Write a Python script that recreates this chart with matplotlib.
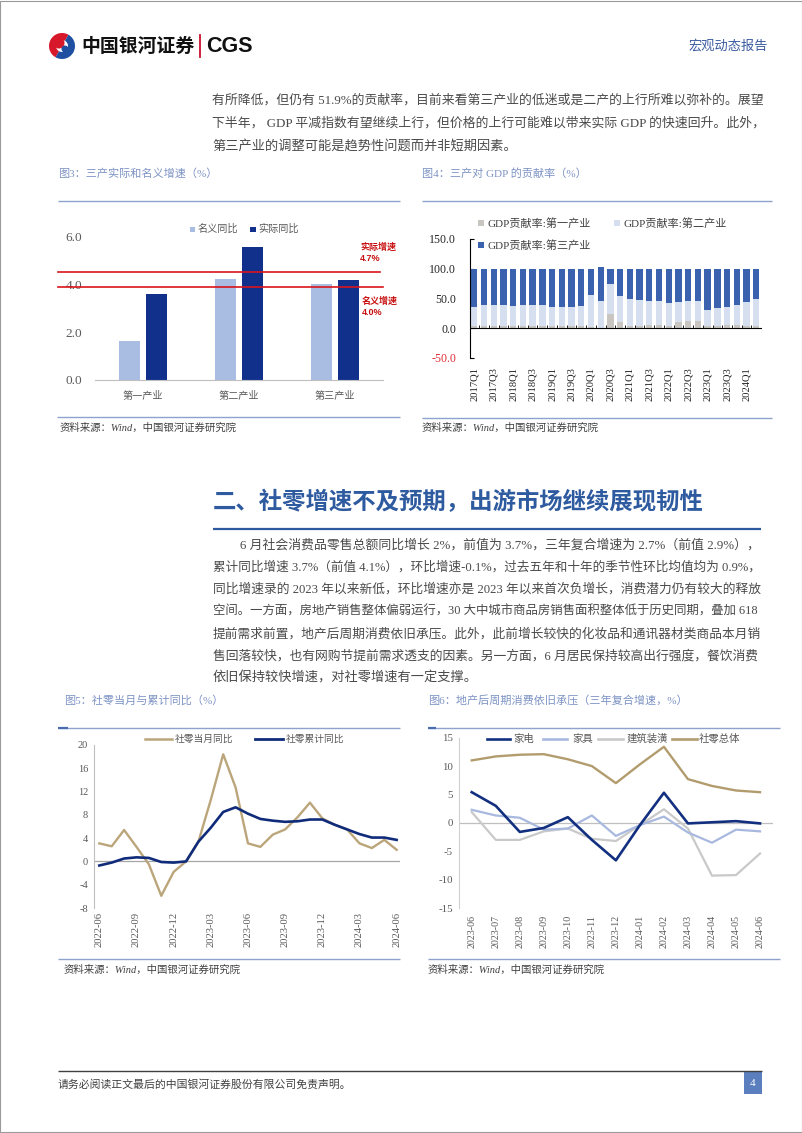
import matplotlib
matplotlib.use('Agg')
import matplotlib.pyplot as plt
import numpy as np
from matplotlib.patches import Rectangle, Wedge
from matplotlib.lines import Line2D

plt.rcParams['font.family'] = ['Liberation Serif', 'Noto Sans CJK SC', 'DejaVu Sans']
plt.rcParams['axes.unicode_minus'] = False

# ---------------- data ----------------
fig3_categories = ['第一产业', '第二产业', '第三产业']
fig3_series = ['名义同比', '实际同比']
fig3_nominal = [1.63, 4.21, 4.02]
fig3_real = [3.58, 5.58, 4.18]
fig3_ref_levels = [4.53, 3.90]
fig3_ref_names = ['实际增速', '名义增速']
fig3_ref_values = ['4.7%', '4.0%']

fig4_quarters = ['2017Q1', '2017Q2', '2017Q3', '2017Q4', '2018Q1', '2018Q2', '2018Q3', '2018Q4',
                 '2019Q1', '2019Q2', '2019Q3', '2019Q4', '2020Q1', '2020Q2', '2020Q3', '2020Q4',
                 '2021Q1', '2021Q2', '2021Q3', '2021Q4', '2022Q1', '2022Q2', '2022Q3', '2022Q4',
                 '2023Q1', '2023Q2', '2023Q3', '2023Q4', '2024Q1', '2024Q2']
fig4_primary = [3, 3, 4, 4, 3, 3, 4, 4, 3, 3, 4, 4, 1, -2, 24, 10,
                4, 4, 5, 5, 4, 10, 11, 11, 4, 4, 5, 5, 3, 4]
fig4_secondary = [33, 36, 35, 35, 34, 35, 34, 35, 32, 32, 31, 33, 54, 46, 51, 44,
                  45, 43.5, 41, 40, 38.5, 33.5, 34, 34, 26, 29, 31, 34.5, 41, 44.5]
fig4_tertiary = [64, 61, 61, 61, 63, 62, 62, 61, 65, 65, 65, 63, 45, 57.5, 25, 46,
                 51, 52.5, 54, 55, 57.5, 56.5, 55, 55, 70, 67, 64, 60.5, 56, 51.5]
fig4_legend = ['GDP贡献率:第一产业', 'GDP贡献率:第二产业', 'GDP贡献率:第三产业']

fig5_months = ['2022-06', '2022-07', '2022-08', '2022-09', '2022-10', '2022-11', '2022-12',
               '2023-01', '2023-02', '2023-03', '2023-04', '2023-05', '2023-06', '2023-07',
               '2023-08', '2023-09', '2023-10', '2023-11', '2023-12', '2024-01', '2024-02',
               '2024-03', '2024-04', '2024-05', '2024-06']
fig5_monthly = [3.1, 2.6, 5.4, 2.5, -0.5, -5.9, -1.8, 0.0, 3.4, 10.6, 18.4, 12.7, 3.1,
                2.5, 4.6, 5.5, 7.6, 10.1, 7.4, 6.3, 5.5, 3.1, 2.3, 3.7, 2.0]
fig5_cumulative = [-0.7, -0.2, 0.5, 0.7, 0.6, -0.1, -0.2, 0.0, 3.4, 5.8, 8.5, 9.3, 8.2,
                   7.3, 7.0, 6.8, 6.9, 7.2, 7.2, 6.3, 5.5, 4.7, 4.1, 4.1, 3.7]
fig5_names = ['社零当月同比', '社零累计同比']

fig6_months = ['2023-06', '2023-07', '2023-08', '2023-09', '2023-10', '2023-11', '2023-12',
               '2024-01', '2024-02', '2024-03', '2024-04', '2024-05', '2024-06']
fig6_appliance = [5.4, 3.0, -1.6, -0.9, 1.0, -3.0, -6.6, -0.4, 5.3, -0.1, 0.1, 0.3, -0.1]
fig6_furniture = [2.3, 1.3, 0.9, -1.2, -1.0, 1.3, -2.3, -0.4, 1.1, -1.7, -3.5, -1.2, -1.5]
fig6_decoration = [1.9, -3.0, -3.0, -1.5, -1.0, -2.8, -3.2, -0.4, 2.4, -1.0, -9.3, -9.2, -5.4]
fig6_retail_total = [11.0, 11.7, 12.0, 12.1, 11.2, 10.0, 7.0, 10.3, 13.4, 7.7, 6.5, 5.7, 5.4]
fig6_names = ['家电', '家具', '建筑装潢', '社零总体']

para1 = ['有所降低，但仍有 51.9%的贡献率，目前来看第三产业的低迷或是二产的上行所难以弥补的。展望',
         '下半年， GDP 平减指数有望继续上行，但价格的上行可能难以带来实际 GDP 的快速回升。此外，',
         '第三产业的调整可能是趋势性问题而并非短期因素。']
heading = '二、社零增速不及预期，出游市场继续展现韧性'
para2 = ['6 月社会消费品零售总额同比增长 2%，前值为 3.7%，三年复合增速为 2.7%（前值 2.9%），',
         '累计同比增速 3.7%（前值 4.1%），环比增速-0.1%，过去五年和十年的季节性环比均值均为 0.9%，',
         '同比增速录的 2023 年以来新低，环比增速亦是 2023 年以来首次负增长，消费潜力仍有较大的释放',
         '空间。一方面，房地产销售整体偏弱运行，30 大中城市商品房销售面积整体低于历史同期，叠加 618',
         '提前需求前置，地产后周期消费依旧承压。此外，此前增长较快的化妆品和通讯器材类商品本月销',
         '售回落较快，也有网购节提前需求透支的因素。另一方面，6 月居民保持较高出行强度，餐饮消费',
         '依旧保持较快增速，对社零增速有一定支撑。']
source_text = '资料来源：Wind，中国银河证券研究院'

# ---------------- page helpers ----------------
W, H = 802, 1133
fig = plt.figure(figsize=(W / 100, H / 100), dpi=100)
fig.patch.set_facecolor('white')
renderer = fig.canvas.get_renderer()

SANS = ['Noto Sans CJK SC', 'DejaVu Sans']
TITLE_C = '#7D93C4'
RULE_C = '#8EA3CB'
BODY_C = '#4A4A4A'
TICK_C = '#595959'


def fx(x):
    return x / W


def fy(y):
    return 1 - y / H


def add_ax(x0, y0, x1, y1):
    return fig.add_axes([fx(x0), fy(y1), (x1 - x0) / W, (y1 - y0) / H])


def hline(x0, x1, y, color, lw):
    fig.add_artist(Line2D([fx(x0), fx(x1)], [fy(y), fy(y)], color=color, lw=lw,
                          transform=fig.transFigure, solid_capstyle='butt'))


def rect(x0, y0, x1, y1, color):
    fig.add_artist(Rectangle((fx(x0), fy(y1)), (x1 - x0) / W, (y1 - y0) / H,
                             facecolor=color, edgecolor='none', transform=fig.transFigure))


def txt(x, y, s, size, color=BODY_C, ha='left', va='center', **kw):
    return fig.text(fx(x), fy(y), s, fontsize=size, color=color, ha=ha, va=va, **kw)


def fit_line(x0, x1, y, s, base, color=BODY_C, justify=True, **kw):
    t = txt(x0, y, s, base, color, **kw)
    if justify:
        w = t.get_window_extent(renderer).width
        scale = min(max((x1 - x0) / w, 0.85), 1.15)
        t.set_fontsize(base * scale)
    return t


# page frame
fig.add_artist(Rectangle((0.0005, 0.0005), 0.999, 0.999, fill=False, edgecolor='#9A9A9A',
                         lw=0.8, transform=fig.transFigure))

# ---------------- header ----------------
axl = add_ax(46, 32, 78, 60)
axl.set_xlim(46, 78)
axl.set_ylim(60, 32)
axl.axis('off')
axl.add_patch(Wedge((62, 46), 13, 120, 300, width=7, facecolor='#D7182A'))
axl.add_patch(Wedge((62, 46), 13, 300, 120, width=7, facecolor='#1F4FA0'))
axl.add_patch(Wedge((59, 43), 5.5, 0, 360, facecolor='#D7182A'))
axl.add_patch(Wedge((65, 49), 3.5, 0, 360, facecolor='#1F4FA0'))
txt(81, 46, '中国银河证券', 13.6, '#111111', family=SANS, weight='bold')
fig.add_artist(Line2D([fx(200), fx(200)], [fy(35), fy(57)], color='#C8102E', lw=1.3,
                      transform=fig.transFigure))
txt(206, 46, 'CGS', 15.5, '#111111', family=['Liberation Sans'], weight='bold')
txt(768, 46, '宏观动态报告', 9.5, '#3A5BA0', ha='right')

# ---------------- paragraph 1 ----------------
p1_y = [100, 123, 146]
for i, line in enumerate(para1):
    fit_line(212, 765, p1_y[i], line, 9.5, justify=(i < len(para1) - 1))

# ---------------- figure 3 ----------------
txt(58, 173, '图3：三产实际和名义增速（%）', 8, TITLE_C)
hline(58, 400, 200.7, RULE_C, 1.0)
hline(57, 400, 417.3, RULE_C, 1.0)
txt(60, 428, source_text, 7.5, '#404040', style='italic')

ax3 = add_ax(95, 236.7, 383, 380)
x3 = np.arange(len(fig3_categories))
ax3.bar(x3 - 0.14, fig3_nominal, width=0.219, color='#A9BDE3', zorder=2)
ax3.bar(x3 + 0.14, fig3_real, width=0.219, color='#10308C', zorder=2)
ax3.set_xlim(-0.5, 2.5)
ax3.set_ylim(0, 6)
for s in ['top', 'right', 'left']:
    ax3.spines[s].set_visible(False)
ax3.spines['bottom'].set_color('#BFBFBF')
ax3.set_yticks([0, 2, 4, 6])
ax3.set_yticklabels([f'{v:.1f}' for v in [0, 2, 4, 6]])
ax3.set_xticks(x3)
ax3.set_xticklabels(fig3_categories, family=SANS)
ax3.tick_params(length=0)
ax3.tick_params(axis='y', pad=9.4, labelsize=9.5, labelcolor=TICK_C)
ax3.tick_params(axis='x', pad=8, labelsize=7.3, labelcolor=TICK_C)
ax3.set_facecolor('none')
ref_ends = [(380 - 95) / 288, 1.0]
for lvl, xe in zip(fig3_ref_levels, ref_ends):
    ax3.plot([(58 - 95) / 288, xe], [lvl, lvl], transform=ax3.get_yaxis_transform(),
             clip_on=False, color='#D9141B', lw=1.2, zorder=3)
txt(360, 247, fig3_ref_names[0], 6.5, '#C81010', weight='bold', family=SANS)
txt(360, 258.5, fig3_ref_values[0], 6.5, '#C81010', weight='bold', family=['Liberation Sans'])
txt(362, 301, fig3_ref_names[1], 6.5, '#C81010', weight='bold', family=SANS)
txt(362, 312.5, fig3_ref_values[1], 6.5, '#C81010', weight='bold', family=['Liberation Sans'])
rect(189.5, 226.5, 195, 232, '#A9BDE3')
txt(198, 229, fig3_series[0], 7.3, TICK_C, family=SANS)
rect(250, 226.5, 255.5, 232, '#10308C')
txt(258, 229, fig3_series[1], 7.3, TICK_C, family=SANS)

# ---------------- figure 4 ----------------
txt(422, 173, '图4：三产对 GDP 的贡献率（%）', 8, TITLE_C)
hline(422, 772, 200.7, RULE_C, 1.0)
hline(422, 772, 418.3, RULE_C, 1.0)
txt(422, 428, source_text, 7.5, '#404040', style='italic')

ax4 = add_ax(470, 239, 762, 357.7)
xq = np.arange(len(fig4_quarters))
prim = np.array(fig4_primary, dtype=float)
sec = np.array(fig4_secondary, dtype=float)
ter = np.array(fig4_tertiary, dtype=float)
base2 = np.clip(prim, 0, None)
ax4.bar(xq, prim, width=0.65, color='#C9C6C2', zorder=2)
ax4.bar(xq, sec, bottom=base2, width=0.65, color='#D6DFF0', zorder=2)
ax4.bar(xq, ter, bottom=base2 + sec, width=0.65, color='#3A62AE', zorder=2)
ax4.axhline(0, color='black', lw=0.8, zorder=3)
ax4.vlines(xq[:-1] + 0.5, 0, 4.5, color='black', lw=0.6, zorder=3)
ax4.set_xlim(-0.44, 29.59)
ax4.set_ylim(-50, 150)
for s in ['top', 'right', 'bottom']:
    ax4.spines[s].set_visible(False)
ax4.spines['left'].set_color('black')
ax4.spines['left'].set_linewidth(0.8)
ax4.set_yticks([-50, 0, 50, 100, 150])
ax4.set_yticklabels([f'{v:.1f}' for v in [-50, 0, 50, 100, 150]])
ax4.tick_params(axis='y', direction='in', length=3, width=0.8, pad=10, labelsize=8.6,
                labelcolor='#262626')
ax4.get_yticklabels()[0].set_color('#E0303A')
ax4.set_xticks(xq[::2])
ax4.set_xticklabels(fig4_quarters[::2], rotation=90)
ax4.tick_params(axis='x', length=0, pad=7, labelsize=7.6, labelcolor='#262626')
ax4.set_facecolor('none')
leg4_colors = ['#C9C6C2', '#D6DFF0', '#3A62AE']
rect(478, 220, 484, 226, leg4_colors[0])
txt(487, 223, fig4_legend[0], 8, '#404040')
rect(614, 220, 620, 226, leg4_colors[1])
txt(623, 223, fig4_legend[1], 8, '#404040')
rect(478, 242, 484, 248, leg4_colors[2])
txt(487, 245, fig4_legend[2], 8, '#404040')

# ---------------- heading + paragraph 2 ----------------
fit_line(213, 705, 502, heading, 17, '#2E5AA0', weight='bold', family=SANS)
hline(213, 761, 528.5, '#2E5AA0', 1.6)
for i, line in enumerate(para2):
    x0 = 240 if i == 0 else 213
    fit_line(x0, 762, 545 + 22.2 * i, line, 9.5, justify=(i < len(para2) - 1))

# ---------------- figure 5 ----------------
txt(64, 700, '图5：社零当月与累计同比（%）', 8, TITLE_C)
hline(58, 400, 728, RULE_C, 1.0)
hline(58, 68, 728, '#4A6DB0', 1.6)
hline(58, 400, 959, RULE_C, 1.0)
txt(64, 970, source_text, 7.5, '#404040', style='italic')

ax5 = add_ax(94, 745, 400, 908)
xm = np.arange(len(fig5_months))
ax5.axhline(0, color='#A6A6A6', lw=0.9, zorder=1)
ax5.plot(xm, fig5_monthly, color='#BBA57A', lw=1.7, zorder=2)
ax5.plot(xm, fig5_cumulative, color='#0F2B7A', lw=1.9, zorder=3)
ax5.set_xlim(-0.43, 24.27)
ax5.set_ylim(-8, 20)
ax5.set_yticks(np.arange(-8, 21, 4))
ax5.set_xticks(xm[::3])
ax5.set_xticklabels(fig5_months[::3], rotation=90)
for s in ['top', 'right', 'bottom']:
    ax5.spines[s].set_visible(False)
ax5.spines['left'].set_color('#BFBFBF')
ax5.tick_params(length=0, labelcolor=TICK_C)
ax5.tick_params(axis='y', pad=4.3, labelsize=7.5)
ax5.tick_params(axis='x', pad=3, labelsize=7.6)
ax5.set_facecolor('none')
fig.add_artist(Line2D([fx(145), fx(172)], [fy(739), fy(739)], color='#BBA57A', lw=1.8,
                      transform=fig.transFigure))
txt(175, 739, fig5_names[0], 7, TICK_C, family=SANS)
fig.add_artist(Line2D([fx(255), fx(283)], [fy(739), fy(739)], color='#0F2B7A', lw=2.0,
                      transform=fig.transFigure))
txt(286, 739, fig5_names[1], 7, TICK_C, family=SANS)

# ---------------- figure 6 ----------------
txt(428, 700, '图6：地产后周期消费依旧承压（三年复合增速，%）', 8, TITLE_C)
hline(428, 780, 728, RULE_C, 1.0)
hline(428, 436, 728, '#4A6DB0', 1.6)
hline(428, 780, 959, RULE_C, 1.0)
txt(428, 970, source_text, 7.5, '#404040', style='italic')

ax6 = add_ax(459, 737.7, 773, 908)
x6 = np.arange(len(fig6_months))
c6 = ['#12307F', '#A8B8DE', '#C9C9C9', '#B29C6E']
ax6.axhline(0, color='#BFBFBF', lw=0.9, zorder=1)
ax6.plot(x6, fig6_decoration, color=c6[2], lw=1.6, zorder=2)
ax6.plot(x6, fig6_furniture, color=c6[1], lw=1.6, zorder=3)
ax6.plot(x6, fig6_retail_total, color=c6[3], lw=1.7, zorder=4)
ax6.plot(x6, fig6_appliance, color=c6[0], lw=1.9, zorder=5)
ax6.set_xlim(-0.53, 12.54)
ax6.set_ylim(-15, 15)
ax6.set_yticks(np.arange(-15, 16, 5))
ax6.set_xticks(x6)
ax6.set_xticklabels(fig6_months, rotation=90)
for s in ['top', 'right', 'bottom']:
    ax6.spines[s].set_visible(False)
ax6.spines['left'].set_color('#D0D0D0')
ax6.tick_params(length=0, labelcolor=TICK_C)
ax6.tick_params(axis='y', pad=4.3, labelsize=7.8)
ax6.tick_params(axis='x', pad=5, labelsize=7.2)
ax6.set_facecolor('none')
leg6 = [(487, 510, 513), (543, 567, 572), (598, 623, 627), (672, 697, 699)]
for (a, b, t), col, name in zip(leg6, c6, fig6_names):
    fig.add_artist(Line2D([fx(a), fx(b)], [fy(739), fy(739)], color=col, lw=1.9,
                          transform=fig.transFigure))
    txt(t, 739, name, 7.5, TICK_C, family=SANS)

# ---------------- footer ----------------
hline(58, 762, 1071, '#404040', 1.0)
txt(58, 1084, '请务必阅读正文最后的中国银河证券股份有限公司免责声明。', 7.8, '#404040')
rect(744, 1071.5, 762, 1094, '#5B7EBE')
txt(753, 1083, '4', 8, 'white', ha='center')

fig.savefig('out.png', dpi=100, facecolor='white')
